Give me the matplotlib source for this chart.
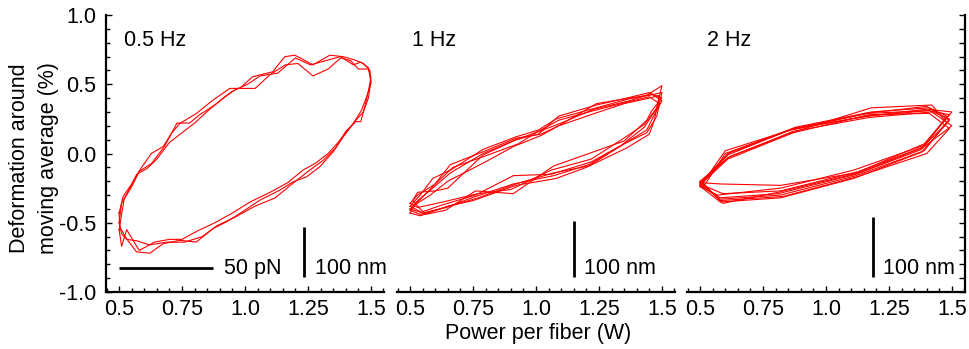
import matplotlib
matplotlib.use('Agg')
import matplotlib.pyplot as plt
from matplotlib.ticker import MultipleLocator

plt.rcParams['font.family'] = ['Liberation Sans', 'DejaVu Sans']

# ---- data: power (W) vs deformation (%) per cycle ----
# 0.5 Hz, 3 cycles
hz05_x = [
    [0.50, 0.516, 0.55, 0.582, 0.628, 0.675, 0.708, 0.741, 0.807, 0.873, 0.94, 0.979, 1.03, 1.11, 1.158, 1.198,
     1.27, 1.337, 1.39, 1.436, 1.47, 1.496, 1.50, 1.483, 1.463, 1.43, 1.39, 1.35, 1.297, 1.244, 1.19, 1.138,
     1.059, 0.979, 0.926, 0.873, 0.807, 0.741, 0.675, 0.622, 0.569, 0.529, 0.503, 0.50],
    [0.50, 0.51, 0.54, 0.57, 0.61, 0.65, 0.70, 0.75, 0.80, 0.86, 0.92, 0.97, 1.04, 1.10, 1.16, 1.21, 1.27, 1.33,
     1.38, 1.42, 1.45, 1.49, 1.50, 1.49, 1.48, 1.46, 1.44, 1.40, 1.36, 1.31, 1.25, 1.18, 1.12, 1.04, 0.96, 0.89,
     0.83, 0.76, 0.69, 0.62, 0.57, 0.53, 0.51, 0.50],
    [0.50, 0.52, 0.55, 0.58, 0.63, 0.68, 0.73, 0.78, 0.82, 0.88, 0.95, 1.01, 1.06, 1.13, 1.20, 1.26, 1.32, 1.38,
     1.43, 1.46, 1.49, 1.50, 1.49, 1.47, 1.44, 1.41, 1.37, 1.33, 1.28, 1.23, 1.17, 1.10, 1.02, 0.95, 0.88, 0.81,
     0.75, 0.70, 0.64, 0.58, 0.53, 0.51, 0.50],
]
hz05_y = [
    [-0.43, -0.31, -0.22, -0.12, 0.0, 0.05, 0.145, 0.217, 0.289, 0.386, 0.47, 0.47, 0.554, 0.59, 0.699, 0.71,
     0.64, 0.71, 0.699, 0.675, 0.65, 0.60, 0.506, 0.41, 0.313, 0.217, 0.12, 0.012, -0.096, -0.169, -0.205, -0.265,
     -0.337, -0.434, -0.494, -0.542, -0.639, -0.627, -0.651, -0.72, -0.71, -0.614, -0.53, -0.43],
    [-0.50, -0.36, -0.26, -0.15, -0.11, -0.04, 0.08, 0.15, 0.22, 0.32, 0.41, 0.47, 0.47, 0.57, 0.64, 0.65, 0.56,
     0.61, 0.69, 0.67, 0.61, 0.61, 0.55, 0.45, 0.37, 0.23, 0.23, 0.16, 0.04, -0.05, -0.13, -0.23, -0.32, -0.38,
     -0.46, -0.52, -0.60, -0.64, -0.64, -0.66, -0.63, -0.62, -0.58, -0.50],
    [-0.55, -0.33, -0.24, -0.13, -0.07, 0.05, 0.22, 0.22, 0.28, 0.35, 0.45, 0.50, 0.56, 0.58, 0.69, 0.64, 0.67,
     0.70, 0.64, 0.66, 0.62, 0.52, 0.40, 0.30, 0.24, 0.17, 0.08, 0.00, -0.07, -0.12, -0.21, -0.28, -0.35, -0.43,
     -0.50, -0.56, -0.62, -0.62, -0.64, -0.70, -0.55, -0.67, -0.55],
]

# 1 Hz, 6 cycles
hz1_x = [
    [0.50, 0.53, 0.59, 0.66, 0.79, 0.92, 1.01, 1.09, 1.24, 1.36, 1.45, 1.50, 1.47, 1.44, 1.35, 1.21, 1.07, 0.91, 0.76, 0.64, 0.55, 0.50],
    [0.50, 0.53, 0.60, 0.67, 0.78, 0.93, 1.00, 1.10, 1.23, 1.37, 1.44, 1.50, 1.48, 1.43, 1.34, 1.22, 1.06, 0.90, 0.77, 0.63, 0.53, 0.50],
    [0.50, 0.52, 0.58, 0.65, 0.80, 0.91, 1.02, 1.09, 1.25, 1.35, 1.45, 1.49, 1.47, 1.45, 1.36, 1.20, 1.08, 0.92, 0.75, 0.65, 0.54, 0.50],
    [0.50, 0.54, 0.59, 0.66, 0.79, 0.92, 1.01, 1.08, 1.24, 1.36, 1.46, 1.50, 1.46, 1.44, 1.35, 1.21, 1.07, 0.91, 0.76, 0.64, 0.56, 0.50],
    [0.51, 0.53, 0.60, 0.65, 0.79, 0.91, 1.01, 1.09, 1.23, 1.36, 1.45, 1.49, 1.47, 1.43, 1.34, 1.22, 1.06, 0.91, 0.76, 0.63, 0.55, 0.51],
    [0.50, 0.53, 0.59, 0.66, 0.80, 0.92, 1.02, 1.09, 1.24, 1.37, 1.45, 1.50, 1.48, 1.44, 1.35, 1.21, 1.07, 0.92, 0.77, 0.64, 0.54, 0.50],
]
hz1_y = [
    [-0.40, -0.34, -0.25, -0.14, 0.00, 0.10, 0.14, 0.27, 0.35, 0.40, 0.44, 0.38, 0.28, 0.17, 0.07, -0.08, -0.16, -0.22, -0.31, -0.39, -0.43, -0.40],
    [-0.36, -0.30, -0.22, -0.10, -0.03, 0.07, 0.15, 0.22, 0.32, 0.38, 0.42, 0.49, 0.33, 0.21, 0.10, -0.04, -0.12, -0.26, -0.29, -0.35, -0.39, -0.36],
    [-0.43, -0.37, -0.30, -0.20, -0.06, 0.05, 0.13, 0.20, 0.30, 0.36, 0.40, 0.42, 0.24, 0.14, 0.04, -0.10, -0.18, -0.23, -0.34, -0.38, -0.45, -0.43],
    [-0.38, -0.30, -0.18, -0.12, 0.03, 0.12, 0.17, 0.25, 0.33, 0.39, 0.43, 0.40, 0.31, 0.24, 0.09, 0.00, -0.09, -0.29, -0.27, -0.41, -0.44, -0.38],
    [-0.34, -0.28, -0.27, -0.25, -0.01, 0.09, 0.16, 0.24, 0.31, 0.37, 0.41, 0.36, 0.30, 0.19, 0.06, -0.06, -0.15, -0.16, -0.30, -0.37, -0.42, -0.34],
    [-0.41, -0.35, -0.24, -0.08, 0.02, 0.11, 0.14, 0.20, 0.36, 0.40, 0.42, 0.44, 0.27, 0.15, 0.07, -0.09, -0.14, -0.22, -0.32, -0.39, -0.44, -0.41],
]

# 2 Hz, 8 cycles
hz2_x = [
    [0.50, 0.61, 0.87, 1.17, 1.41, 1.49, 1.39, 1.12, 0.82, 0.58, 0.50],
    [0.50, 0.62, 0.88, 1.18, 1.42, 1.48, 1.38, 1.13, 0.81, 0.59, 0.50],
    [0.50, 0.60, 0.86, 1.16, 1.40, 1.50, 1.39, 1.11, 0.82, 0.57, 0.50],
    [0.51, 0.61, 0.87, 1.17, 1.41, 1.49, 1.40, 1.12, 0.83, 0.58, 0.51],
    [0.50, 0.62, 0.88, 1.18, 1.41, 1.48, 1.38, 1.12, 0.81, 0.58, 0.50],
    [0.50, 0.61, 0.87, 1.17, 1.42, 1.50, 1.39, 1.13, 0.82, 0.59, 0.50],
    [0.51, 0.60, 0.86, 1.16, 1.40, 1.49, 1.38, 1.11, 0.82, 0.58, 0.51],
    [0.50, 0.61, 0.87, 1.17, 1.41, 1.49, 1.39, 1.12, 0.82, 0.58, 0.50],
]
hz2_y = [
    [-0.22, 0.00, 0.18, 0.29, 0.31, 0.25, 0.02, -0.16, -0.30, -0.33, -0.22],
    [-0.20, -0.02, 0.16, 0.33, 0.35, 0.22, 0.04, -0.14, -0.28, -0.36, -0.20],
    [-0.24, 0.02, 0.17, 0.27, 0.32, 0.30, 0.06, -0.12, -0.25, -0.30, -0.24],
    [-0.21, -0.04, 0.15, 0.28, 0.29, 0.18, 0.00, -0.17, -0.31, -0.34, -0.21],
    [-0.23, 0.01, 0.19, 0.30, 0.33, 0.27, 0.03, -0.15, -0.29, -0.32, -0.23],
    [-0.22, -0.03, 0.16, 0.26, 0.30, 0.20, 0.05, -0.13, -0.27, -0.29, -0.22],
    [-0.25, 0.00, 0.17, 0.29, 0.34, 0.24, 0.01, -0.18, -0.32, -0.35, -0.25],
    [-0.21, -0.01, 0.18, 0.27, 0.31, 0.28, 0.07, -0.14, -0.23, -0.22, -0.21],
]

panel_labels = ['0.5 Hz', '1 Hz', '2 Hz']
xticks = [0.5, 0.75, 1.0, 1.25, 1.5]
xticklabels = ['0.5', '0.75', '1.0', '1.25', '1.5']
yticks = [-1.0, -0.5, 0.0, 0.5, 1.0]
yticklabels = ['-1.0', '-0.5', '0.0', '0.5', '1.0']

FS = 15.5

fig = plt.figure(figsize=(9.69, 3.49), dpi=100)
lefts = [106, 397, 687]
axes = [fig.add_axes([l / 969, 57 / 349, 278 / 969, 277 / 349]) for l in lefts]

loops = [(hz05_x, hz05_y), (hz1_x, hz1_y), (hz2_x, hz2_y)]
# scale bars / labels (data units) in each panel
bar_x = [1.234, 1.151, 1.185]
bar_top = [-0.534, -0.484, -0.462]
nm_x = [1.278, 1.192, 1.225]
lab_x = [0.52, 0.508, 0.528]

for i, ax in enumerate(axes):
    xs, ys = loops[i]
    for cx, cy in zip(xs, ys):
        ax.plot(cx, cy, color='#ff0000', lw=0.8)

    ax.set_xlim(0.448, 1.552)
    ax.set_ylim(-1.0, 1.0)
    for s in ['top', 'left', 'right']:
        ax.spines[s].set_visible(False)
    ax.spines['bottom'].set_linewidth(1.6)
    ax.set_xticks(xticks)
    ax.set_xticklabels(xticklabels)
    ax.xaxis.set_minor_locator(MultipleLocator(0.05))
    ax.tick_params(axis='x', which='major', direction='in', length=4, width=1, labelsize=FS, pad=5)
    ax.tick_params(axis='x', which='minor', direction='in', length=3, width=1)
    ax.set_yticks(yticks)
    ax.yaxis.set_minor_locator(MultipleLocator(0.1))

    if i == 0:
        ax.spines['left'].set_visible(True)
        ax.spines['left'].set_linewidth(1.6)
        ax.set_yticklabels(yticklabels)
        ax.tick_params(axis='y', which='major', direction='in', length=4, width=1, labelsize=FS, pad=7)
        ax.tick_params(axis='y', which='minor', direction='in', length=3, width=1)
    elif i == 2:
        ax.spines['right'].set_visible(True)
        ax.spines['right'].set_linewidth(1.6)
        ax.yaxis.tick_right()
        ax.tick_params(axis='y', which='both', direction='in', length=4, width=1, labelright=False)
    else:
        ax.tick_params(axis='y', which='both', left=False, right=False, labelleft=False)

    ax.text(lab_x[i], 0.816, panel_labels[i], fontsize=FS, va='center', ha='left')

    # scale bars
    ax.plot([bar_x[i], bar_x[i]], [bar_top[i], -0.895], color='black', lw=2, solid_capstyle='butt')
    ax.text(nm_x[i], -0.83, '100 nm', fontsize=FS, va='center', ha='left')

axes[0].plot([0.5, 0.873], [-0.83, -0.83], color='black', lw=2, solid_capstyle='butt')
axes[0].text(0.917, -0.83, '50 pN', fontsize=FS, va='center', ha='left')

fig.text(34 / 969, 1 - 158 / 349, 'Deformation around\nmoving average (%)', rotation=90,
         ha='center', va='center', multialignment='center', fontsize=FS, linespacing=1.5)
fig.text(538 / 969, 1 - 333 / 349, 'Power per fiber (W)', ha='center', va='center', fontsize=FS)

fig.savefig('out.png', dpi=100)
